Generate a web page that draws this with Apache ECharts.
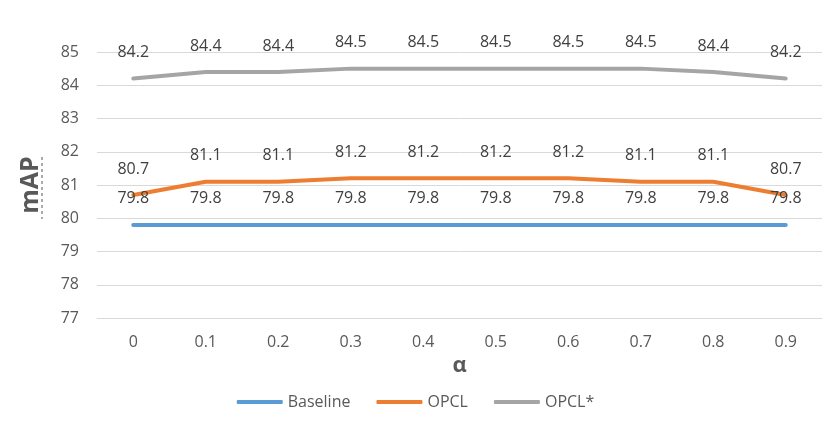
<!DOCTYPE html>
<html><head><meta charset="utf-8">
<script src="https://cdn.jsdelivr.net/npm/echarts@6/dist/echarts.min.js"></script>
<style>html,body{margin:0;padding:0;background:#fff}#c{width:831px;height:433px}</style>
</head><body><div id="c"></div>
<script>
const categories = ['0','0.1','0.2','0.3','0.4','0.5','0.6','0.7','0.8','0.9'];
const baseline = [79.8,79.8,79.8,79.8,79.8,79.8,79.8,79.8,79.8,79.8];
const opcl = [80.7,81.1,81.1,81.2,81.2,81.2,81.2,81.1,81.1,80.7];
const opclStar = [84.2,84.4,84.4,84.5,84.5,84.5,84.5,84.5,84.4,84.2];
const seriesNames = ['Baseline','OPCL','OPCL*'];
const FONT = 'Open Sans';
const chart = echarts.init(document.getElementById('c'));
function mk(name, data, color){
  return {name, type:'line', data, symbol:'circle', symbolSize:0, showSymbol:true, smooth:false,
    lineStyle:{width:4,color,cap:'round',join:'round'}, itemStyle:{color},
    label:{show:true,position:'top',distance:18,color:'#404040',fontSize:16,fontFamily:FONT},
    labelLayout:{hideOverlap:false},
    emphasis:{disabled:true}};
}
chart.setOption({
  animation:false,
  textStyle:{fontFamily:FONT},
  grid:{left:97,right:9,top:52,bottom:115,containLabel:false},
  legend:{bottom:18,left:'center',itemWidth:46,itemHeight:4,itemGap:26,
    textStyle:{color:'#595959',fontSize:16,fontFamily:FONT},
    data:seriesNames.map(n=>({name:n,icon:'roundRect'}))},
  xAxis:{type:'category',data:categories,boundaryGap:true,
    name:'α',nameLocation:'middle',nameGap:34,
    nameTextStyle:{fontSize:22,fontWeight:'bold',color:'#595959',fontFamily:FONT},
    axisLine:{show:true,lineStyle:{color:'#D9D9D9'}},axisTick:{show:false},
    axisLabel:{color:'#595959',fontSize:16,margin:16,fontFamily:FONT}},
  yAxis:{type:'value',min:77,max:85,interval:1,
    name:'mAP',nameLocation:'middle',nameGap:54,nameRotate:90,
    nameTextStyle:{fontSize:25,fontWeight:'bold',color:'#595959',fontFamily:FONT},
    axisLine:{show:false},axisTick:{show:false},
    splitLine:{lineStyle:{color:'#D9D9D9',width:1}},
    axisLabel:{color:'#595959',fontSize:16,margin:18,fontFamily:FONT}},
  graphic:[{type:'line',shape:{x1:42,y1:157,x2:42,y2:219},style:{stroke:'#595959',lineWidth:1,lineDash:[3,3]}}],
  series:[mk(seriesNames[0],baseline,'#5B9BD5'),mk(seriesNames[1],opcl,'#ED7D31'),mk(seriesNames[2],opclStar,'#A5A5A5')]
});
</script></body></html>
